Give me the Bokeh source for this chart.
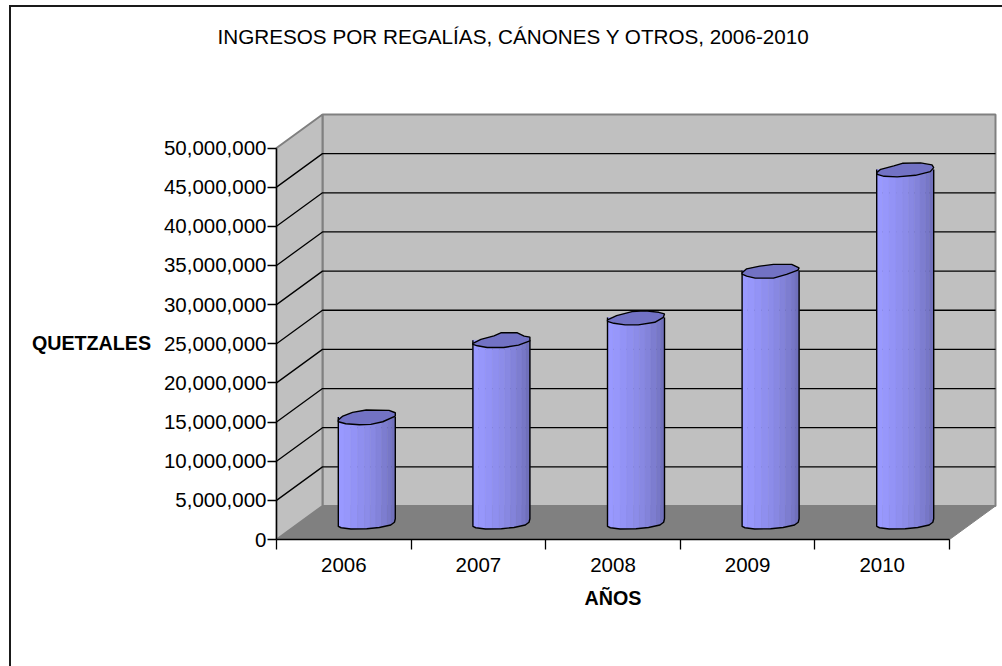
from bokeh.plotting import figure
from bokeh.models import Range1d, FixedTicker, LinearAxis, NumeralTickFormatter, Label
from bokeh.embed import file_html
from bokeh.resources import INLINE
import numpy as np

years = ["2006", "2007", "2008", "2009", "2010"]
ingresos = [13500000, 23300000, 26200000, 32200000, 45100000]
y_ticks = [0, 5000000, 10000000, 15000000, 20000000, 25000000, 30000000, 35000000, 40000000, 45000000, 50000000]

TITLE = "INGRESOS POR REGALÍAS, CÁNONES Y OTROS, 2006-2010"
Y_LABEL = "QUETZALES"
X_LABEL = "AÑOS"
FONT = "Liberation Sans"

# geometry of the pseudo 3D box, in pixels of the picture
FIG_L, FIG_T, FIG_W, FIG_H = 11, 7, 991, 659
AX_L, AX_R, AX_B, AX_T = 276.0, 949.0, 539.0, 147.5
D_X, D_Y = 46.0, 33.5
UX = (AX_R - AX_L) / len(years)
UY = (AX_B - AX_T) / max(y_ticks)
dx = D_X / UX
dy = D_Y / UY
y_max = max(y_ticks)
n = len(years)

# the frame fills the whole canvas, the axes are pinned at the data origin
p = figure(width=FIG_W, height=FIG_H, output_backend="svg", toolbar_location=None,
           x_range=Range1d((FIG_L - AX_L) / UX, (FIG_L + FIG_W - AX_L) / UX),
           y_range=Range1d((AX_B - FIG_T - FIG_H) / UY, (AX_B - FIG_T) / UY),
           min_border=0, x_axis_type=None, y_axis_type=None, outline_line_color=None)
p.grid.visible = False
BC = "#1a1a1a"
p.styles = {"position": "absolute", "left": f"{FIG_L}px", "top": f"{FIG_T}px",
            "box-shadow": f"-2px 0 0 0 {BC}, 0 -2px 0 0 {BC}, -2px -2px 0 0 {BC}"}

# walls and floor
p.patch([0, dx, n + dx, n], [0, dy, dy, 0], fill_color="#808080", line_color="#808080", line_width=1)
p.patch([dx, n + dx, n + dx, dx], [dy, dy, y_max + dy, y_max + dy], fill_color="#C0C0C0", line_color="#808080", line_width=2)
p.patch([0, dx, dx, 0], [0, dy, y_max + dy, y_max], fill_color="#C0C0C0", line_color="#808080", line_width=2)

# gridlines over side and back walls
grid = [v for v in y_ticks if 0 < v < y_max]
p.multi_line([[0, dx, n + dx] for _ in grid], [[v, v + dy, v + dy] for v in grid], line_color="black", line_width=1.3)

# hand-traced outline of each cylinder's lid (fraction of bar width, pixels from lid centre)
top_shapes = [
    ([0, 0.08, 0.25, 0.49, 0.89, 1.0, 1.0, 0.78, 0.57, 0.37, 0.13, 0],
     [3, -1, -4.7, -7, -6.7, -4.3, -1, 4.7, 7.3, 7.7, 6.7, 4.7]),
    ([0, 0.14, 0.37, 0.49, 0.78, 0.9, 1.0, 1.0, 0.8, 0.54, 0.25, 0.08, 0],
     [3, -1, -4.5, -7.5, -7.5, -4.2, -3.2, 0.5, 4.8, 7.2, 7.2, 5.5, 4]),
    ([0, 0.16, 0.43, 0.66, 0.9, 1.0, 0.98, 0.83, 0.54, 0.31, 0.11, 0],
     [2.3, -2, -6, -6.7, -5.3, -3.7, -0.3, 4.7, 7.3, 7.3, 5.7, 3.7]),
    ([0, 0.08, 0.31, 0.55, 0.87, 1.0, 0.98, 0.78, 0.55, 0.23, 0.08, 0],
     [2.2, -1.8, -4.5, -6.2, -6.2, -2.8, -0.5, 3.8, 7.5, 7.5, 5.5, 3.5]),
    ([0, 0.07, 0.3, 0.45, 0.77, 0.97, 1.0, 0.94, 0.68, 0.36, 0.13, 0.01],
     [3, -0.3, -3.7, -6.3, -6.7, -4.7, -2, 2, 5.7, 7.3, 6.7, 4.7]),
]
base_x = [0, 0.05, 0.22, 0.5, 0.72, 0.92, 0.985, 1.0]
base_y = [3.7, 5, 6.3, 6, 4.7, 2.3, -0.5, -4]
strip_edges = [0, 0.1, 0.22, 0.34, 0.46, 0.56, 0.66, 0.76, 0.86, 0.93, 1.0]
strip_cols = ["#9999FF", "#9797FB", "#9393F6", "#8F8FEF", "#8C8CE9", "#8888E2", "#8383DA", "#7D7DD0", "#7777C7", "#7070BC"]
BAR_W = 57.0 / UX

for i, v in enumerate(ingresos):
    x0 = i + 0.5 + dx / 2 - BAR_W / 2
    base = dy / 2
    tip = v + dy / 2
    for k, col in enumerate(strip_cols):
        a, b = strip_edges[k], strip_edges[k + 1]
        fx = np.linspace(a, b, 5)
        low = base - np.interp(fx, base_x, base_y) / UY
        xs = x0 + fx * BAR_W
        p.patch(list(xs) + list(xs[::-1]), list(low) + [tip] * len(xs),
                fill_color=col, line_color=col, line_width=0.5)
    bx = np.array(base_x)
    by = np.array(base_y)
    p.line(list(x0 + np.r_[0, bx, 1] * BAR_W),
           [tip] + list(base - by / UY) + [tip],
           line_color="black", line_width=1.4)
    sx, sy = top_shapes[i]
    p.patch(list(x0 + np.array(sx) * BAR_W), list(tip - np.array(sy) / UY),
            fill_color="#7272C4", line_color="black", line_width=1.4)

# axes
yax = LinearAxis(bounds=(0, y_max), ticker=FixedTicker(ticks=y_ticks), fixed_location=0,
                 formatter=NumeralTickFormatter(format="0,0"),
                 major_label_text_font=FONT, major_label_text_font_size="20.5px", major_label_text_color="black",
                 major_label_standoff=1, major_tick_in=0, major_tick_out=9, minor_tick_line_color=None,
                 axis_line_color="black", major_tick_line_color="black", axis_line_width=1.3, major_tick_line_width=1.3)
p.add_layout(yax, "left")

xax = LinearAxis(bounds=(0, n), fixed_location=0,
                 ticker=FixedTicker(ticks=[i + 0.5 for i in range(n)], minor_ticks=list(range(n + 1))),
                 major_label_overrides={i + 0.5: y for i, y in enumerate(years)},
                 major_label_text_font=FONT, major_label_text_font_size="20.5px", major_label_text_color="black",
                 major_label_standoff=8,
                 major_tick_line_color=None, minor_tick_in=0, minor_tick_out=10,
                 axis_line_color="black", minor_tick_line_color="black", axis_line_width=1.3, minor_tick_line_width=1.3)
p.add_layout(xax, "below")


def page_label(text, cx, cy, size, style="normal"):
    # data coordinates worked back from the pixel position of the text
    p.add_layout(Label(x=(cx - AX_L) / UX, y=(AX_B - cy) / UY, text=text,
                       text_font=FONT, text_font_size=size, text_font_style=style,
                       text_align="center", text_baseline="middle", text_color="black"))


page_label(TITLE, 513, 36, "20.7px")
page_label(Y_LABEL, 91, 342, "19.7px", "bold")
page_label(X_LABEL, 612.5, 597, "19.7px", "bold")

html = file_html(p, INLINE)
open("out.html", "w").write(html)
